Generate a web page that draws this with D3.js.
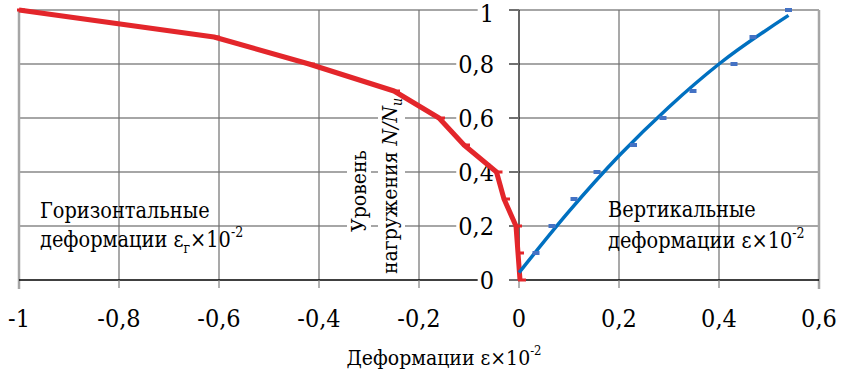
<!DOCTYPE html>
<html>
<head>
<meta charset="utf-8">
<script src="https://cdn.jsdelivr.net/npm/d3@7"></script>
<style>
  body { margin: 0; background: #fff; }
  svg text { font-family: "DejaVu Serif Condensed", "DejaVu Serif", serif; font-stretch: condensed; }
</style>
</head>
<body>
<svg id="chart" width="844" height="375"></svg>
<script>
// load levels N/Nu
const levels = [1, 0.9, 0.8, 0.7, 0.6, 0.5, 0.4, 0.3, 0.2, 0.1, 0];
// horizontal strain (red)
const horizStrain = [-1, -0.61, -0.42, -0.25, -0.16, -0.11, -0.045, -0.03, -0.006, -0.002, 0.002];
// vertical strain points (blue)
const vertLevels = [0.1, 0.2, 0.3, 0.4, 0.5, 0.6, 0.7, 0.8, 0.9, 1];
const vertStrain = [0.034, 0.066, 0.11, 0.156, 0.229, 0.288, 0.348, 0.43, 0.468, 0.539];
// trend line
const trendStrain = [0, 0.1, 0.2, 0.3, 0.4, 0.539];
const trendLevels = [0.027, 0.254, 0.46, 0.641, 0.8, 0.98];

const xTicks = [-1, -0.8, -0.6, -0.4, -0.2, 0, 0.2, 0.4, 0.6];
const yTicks = [0, 0.2, 0.4, 0.6, 0.8, 1];
const fmt = d => String(d).replace(".", ",");

const svg = d3.select("#chart");
const x = d3.scaleLinear().domain([-1, 0.6]).range([19, 819]);
const y = d3.scaleLinear().domain([0, 1]).range([280, 10]);

const red = "#e3262b", blue = "#0070c0", blueDot = "#4472c4";

// grid
svg.append("g").selectAll("line")
    .data(yTicks.filter(d => d > 0))
    .join("line")
    .attr("x1", x(-1)).attr("x2", x(0.6))
    .attr("y1", d => y(d)).attr("y2", d => y(d))
    .attr("stroke", "#a6a6a6").attr("stroke-width", 2);

svg.append("g").selectAll("line")
    .data(xTicks.filter(d => d > -1 && d < 0.6 && d !== 0))
    .join("line")
    .attr("x1", d => x(d)).attr("x2", d => x(d))
    .attr("y1", y(1)).attr("y2", y(0))
    .attr("stroke", "#707070").attr("stroke-width", 1.2);

// plot borders left/right
[-1, 0.6].forEach(v => {
    svg.append("line")
        .attr("x1", x(v)).attr("x2", x(v))
        .attr("y1", y(1)).attr("y2", y(0) + 9)
        .attr("stroke", "#a6a6a6").attr("stroke-width", 2.5);
});

// x axis
svg.append("line")
    .attr("x1", x(-1)).attr("x2", x(0.6))
    .attr("y1", y(0)).attr("y2", y(0))
    .attr("stroke", "#000").attr("stroke-width", 1.5);
svg.append("g").selectAll("line")
    .data(xTicks.filter(d => d > -1 && d < 0.6))
    .join("line")
    .attr("x1", d => x(d)).attr("x2", d => x(d))
    .attr("y1", y(0)).attr("y2", y(0) + 8)
    .attr("stroke", "#808080").attr("stroke-width", 1.2);
svg.append("g").selectAll("text")
    .data(xTicks)
    .join("text")
    .attr("x", d => x(d)).attr("y", 327)
    .attr("text-anchor", "middle")
    .attr("font-size", 25)
    .text(fmt);

// y axis
svg.append("line")
    .attr("x1", x(0)).attr("x2", x(0))
    .attr("y1", y(1)).attr("y2", y(0))
    .attr("stroke", "#000").attr("stroke-width", 1.2);
svg.append("g").selectAll("line")
    .data(yTicks)
    .join("line")
    .attr("x1", x(0) - 10).attr("x2", x(0))
    .attr("y1", d => y(d)).attr("y2", d => y(d))
    .attr("stroke", "#707070").attr("stroke-width", 2);

const yLab = svg.append("g");
yTicks.forEach(d => {
    const t = yLab.append("text")
        .attr("x", x(0) - 25).attr("y", y(d) + (d === 1 ? 12 : 9))
        .attr("text-anchor", "end")
        .attr("font-size", 25)
        .text(fmt(d));
    const b = t.node().getBBox();
    yLab.insert("rect", "text")
        .attr("x", b.x - 2).attr("y", y(d) - 2)
        .attr("width", x(0) - 10 - b.x + 2).attr("height", 4)
        .attr("fill", "#fff");
});

// y title (two lines, opaque background)
const yTitle = svg.append("g");
function titleLine(tx, ty, build) {
    const g = yTitle.append("g").attr("transform", `translate(${tx},${ty}) rotate(-90)`);
    const t = g.append("text").attr("text-anchor", "middle").attr("font-size", 21);
    build(t);
    const b = t.node().getBBox();
    g.insert("rect", "text")
        .attr("x", b.x).attr("y", b.y).attr("width", b.width).attr("height", b.height)
        .attr("fill", "#fff");
}
titleLine(366, 191, t => t.text("Уровень"));
titleLine(397, 186, t => {
    t.append("tspan").text("нагружения ");
    t.append("tspan").attr("font-style", "italic").text("N/N");
    t.append("tspan").attr("font-style", "italic").attr("font-size", 14).attr("dy", 5).text("u");
});

// red series
const redData = levels.map((l, i) => ({ s: horizStrain[i], l }));
svg.append("path")
    .datum(redData)
    .attr("fill", "none")
    .attr("stroke", red)
    .attr("stroke-width", 5)
    .attr("stroke-linejoin", "round")
    .attr("d", d3.line().x(d => x(d.s)).y(d => y(d.l)));
svg.append("g").selectAll("rect")
    .data(redData)
    .join("rect")
    .attr("x", d => x(d.s) - 2).attr("y", d => y(d.l) - 1.5)
    .attr("width", 8).attr("height", 3)
    .attr("fill", red);

// blue series
svg.append("path")
    .datum(trendStrain.map((s, i) => ({ s, l: trendLevels[i] })))
    .attr("fill", "none")
    .attr("stroke", blue)
    .attr("stroke-width", 3.5)
    .attr("d", d3.line().curve(d3.curveMonotoneX).x(d => x(d.s)).y(d => y(d.l)));
svg.append("g").selectAll("rect")
    .data(vertStrain.map((s, i) => ({ s, l: vertLevels[i] })))
    .join("rect")
    .attr("x", d => x(d.s) - 3.5).attr("y", d => y(d.l) - 2)
    .attr("width", 7).attr("height", 4)
    .attr("fill", blueDot);

// annotations
function strainLabel(tx, ty, sub) {
    const t = svg.append("text").attr("x", tx).attr("y", ty).attr("font-size", 21.5);
    t.append("tspan").text("деформации ε");
    if (sub) t.append("tspan").attr("font-size", 14).attr("dy", 6).text(sub);
    t.append("tspan").attr("dy", sub ? -6 : 0).text("×10");
    t.append("tspan").attr("font-size", 14).attr("dy", -10).text("-2");
}
svg.append("text").attr("x", 40).attr("y", 218).attr("font-size", 21.5).text("Горизонтальные");
strainLabel(40, 247, "г");
svg.append("text").attr("x", 608).attr("y", 217).attr("font-size", 21.5).text("Вертикальные");
strainLabel(608, 248, null);

const xt = svg.append("text").attr("x", 444).attr("y", 365)
    .attr("text-anchor", "middle").attr("font-size", 21);
xt.append("tspan").text("Деформации  ε×10");
xt.append("tspan").attr("font-size", 13).attr("dy", -10).text("-2");
</script>
</body>
</html>
